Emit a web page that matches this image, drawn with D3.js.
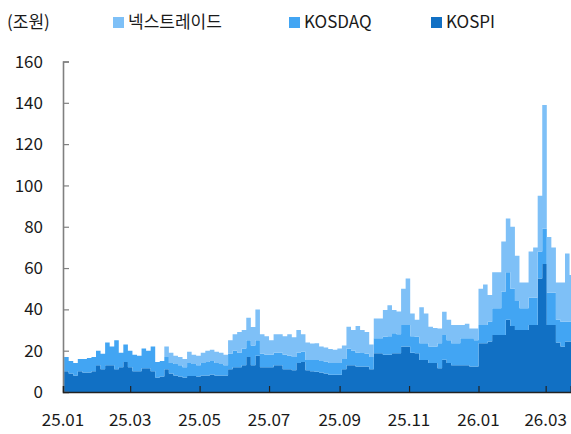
<!DOCTYPE html>
<html>
<head>
<meta charset="utf-8">
<script src="https://cdn.jsdelivr.net/npm/d3@7"></script>
<style>
    body { margin: 0; background: #fff; }
    svg text { font-family: "Noto Sans CJK KR", "Noto Sans", sans-serif; fill: #1a1a1a; }
</style>
</head>
<body>
<div class="chartcontainer"></div>
<script>
// 4-day periods starting 2025-01-02 (조원)
const startDate = new Date(2025, 0, 2)
const stepDays = 4

const kospi = [
    10, 9, 8, 10, 9.5, 9.5, 10, 13, 11, 13, 13, 11, 12, 14.5, 12, 10, 10, 11.5, 11.5, 10,
    7, 7.5, 11, 9, 8, 7.5, 7, 7.7, 7.7, 7.5, 8, 8, 8.5, 8, 8, 8, 11, 12, 12, 13,
    17, 13, 17.5, 12, 12, 12, 13, 13, 11, 11, 10.5, 14, 14.5, 10.5, 10, 9.8, 9.5, 9, 8.4, 8.4,
    8.4, 11, 13, 13, 12.4, 12.4, 12.4, 11, 18.7, 18.7, 18, 18, 18.7, 18.7, 22, 22, 19, 18.7, 15.5, 15.5,
    14, 14, 11.5, 15.6, 14, 13, 13, 13, 13, 12.3, 12.3, 23.6, 23.6, 24.4, 27.6, 27.6, 27.6, 35, 32, 30,
    30, 30, 32.4, 32.4, 55, 62, 32.4, 32.4, 24, 22, 24.4, 24.4
]
const kosdaq = [
    7, 6, 6, 6, 6.5, 7, 7, 7, 7.5, 11, 9, 14, 7, 8.5, 8, 8, 7.5, 9.5, 8.5, 12,
    7.5, 7.5, 6, 5, 5.5, 5.5, 5, 6.3, 5.8, 5.5, 6, 6.5, 6.5, 6, 5.5, 5, 7.5, 8, 7, 8,
    8, 9.5, 7.5, 6.5, 6, 6, 6, 6, 7, 6.5, 6.5, 5, 5, 5, 5.5, 5.7, 5.5, 5.8, 5.6, 5.6,
    5.6, 5, 8, 7, 6.6, 6.5, 6.1, 6, 7.3, 7.3, 8.8, 9, 9.8, 9.3, 10.4, 10.4, 8, 8.1, 8.1, 8.1,
    8, 8, 12.1, 12, 11, 10.6, 10.6, 13, 13, 13.7, 12.7, 8.8, 8.8, 9.6, 12.9, 12.9, 21, 23, 18, 14,
    10.5, 10.5, 13.2, 13.2, 13, 17, 15.6, 15.6, 11, 12, 9.6, 9.6
]
const nextrade = [
    0, 0, 0, 0, 0, 0, 0, 0, 0, 0, 0, 0, 0, 0, 0, 0, 0, 0, 0, 0,
    0, 0, 5, 5, 4, 4, 4, 5.5, 4.5, 4.5, 5, 5.5, 5.5, 5.5, 5.5, 5, 6.5, 8, 10, 9,
    11, 9, 15, 9.5, 9, 7, 9, 9, 9, 10.5, 9.5, 11, 8.5, 8.5, 8, 8.1, 7, 6.8, 6.8, 6.5,
    7, 6.5, 10.6, 10, 13, 11.1, 10.5, 6, 9.6, 9.6, 12.9, 15, 11.2, 11, 17.6, 22.6, 11, 8.2, 17.4, 14.4,
    9.6, 9, 7.2, 11.3, 10, 8.8, 8.8, 6.4, 7, 4.8, 5.8, 17.6, 19.6, 13, 17.5, 17.5, 24.2, 26, 30, 22,
    12.5, 12.5, 22.4, 24.4, 27, 60, 27, 22, 18, 19, 33, 22.6
]

const seriesKeys = ['kospi', 'kosdaq', 'nextrade']
const seriesNames = ['KOSPI', 'KOSDAQ', '넥스트레이드']
const seriesColors = ['#1170c4', '#42a5f3', '#7ec0f7']
const yTicks = [0, 20, 40, 60, 80, 100, 120, 140, 160]
const xTickMonths = ['2025-01', '2025-03', '2025-05', '2025-07', '2025-09', '2025-11', '2026-01', '2026-03']

const w = 571
const h = 434
const padLeft = 63
const padRight = 571
const padTop = 61.5
const axisY = 392

let rows = kospi.map((v, i) => ({
    date: d3.timeDay.offset(startDate, i * stepDays),
    kospi: v,
    kosdaq: kosdaq[i],
    nextrade: nextrade[i]
}))
// carry the last period to its end so the step reaches the edge
let last = rows[rows.length - 1]
rows.push(Object.assign({}, last, { date: d3.timeDay.offset(last.date, stepDays) }))

const xScale = d3.scaleTime()
    .domain([new Date(2025, 0, 1), new Date(2026, 2, 23)])
    .range([padLeft, 570.7])

const yScale = d3.scaleLinear()
    .domain([0, 160])
    .range([axisY, padTop])

const svg = d3.select('.chartcontainer')
    .append('svg')
    .attr('width', w)
    .attr('height', h)

svg.append('clipPath')
    .attr('id', 'plotclip')
    .append('rect')
    .attr('x', padLeft)
    .attr('y', 0)
    .attr('width', padRight - padLeft)
    .attr('height', axisY)

const stacked = d3.stack().keys(seriesKeys)(rows)

const area = d3.area()
    .curve(d3.curveStepAfter)
    .x(d => xScale(d.data.date))
    .y0(d => yScale(d[0]))
    .y1(d => yScale(d[1]))

svg.append('g')
    .attr('clip-path', 'url(#plotclip)')
    .selectAll('path')
    .data(stacked)
    .enter()
    .append('path')
    .attr('d', area)
    .attr('fill', (d, i) => seriesColors[i])

// y axis, ticks pointing inward
const yAxis = d3.axisRight(yScale)
    .tickValues(yTicks)
    .tickSize(6)
    .tickFormat('')
const gy = svg.append('g')
    .attr('transform', 'translate(' + padLeft + ',0)')
    .call(yAxis)
gy.select('.domain').attr('stroke', '#808080').attr('stroke-width', 1.6)
gy.selectAll('.tick line').attr('stroke', '#808080').attr('stroke-width', 1.2)

svg.append('g')
    .selectAll('text')
    .data(yTicks)
    .enter()
    .append('text')
    .attr('x', 43)
    .attr('y', d => yScale(d))
    .attr('dy', '0.36em')
    .attr('text-anchor', 'end')
    .style('font-size', '17px')
    .text(d => d)

// x axis, ticks pointing up
const parseMonth = d3.timeParse('%Y-%m')
const xTickDates = xTickMonths.map(parseMonth)
const xAxis = d3.axisTop(xScale)
    .tickValues(xTickDates)
    .tickSize(6)
    .tickFormat('')
const gx = svg.append('g')
    .attr('transform', 'translate(0,' + axisY + ')')
    .call(xAxis)
gx.select('.domain').attr('stroke', '#222').attr('stroke-width', 1.4)
gx.selectAll('.tick line').attr('stroke', '#222').attr('stroke-width', 1.2)

svg.append('g')
    .selectAll('text')
    .data(xTickDates)
    .enter()
    .append('text')
    .attr('x', d => xScale(d))
    .attr('y', 426)
    .attr('text-anchor', 'middle')
    .style('font-size', '17px')
    .text(d => d3.timeFormat('%y.%m')(d))

// unit and legend
svg.append('text')
    .text('(조원)')
    .attr('x', 7)
    .attr('y', 28)
    .style('font-size', '17px')

const legendX = [113, 289, 431]
const legendOrder = [2, 1, 0]
const legend = svg.append('g')
    .selectAll('g')
    .data(legendOrder)
    .enter()
    .append('g')
    .attr('transform', (d, i) => 'translate(' + legendX[i] + ',0)')
legend.append('rect')
    .attr('x', 0)
    .attr('y', 17)
    .attr('width', 11)
    .attr('height', 11)
    .attr('fill', d => seriesColors[d])
legend.append('text')
    .attr('x', 15)
    .attr('y', 28)
    .style('font-size', '17px')
    .text(d => seriesNames[d])
</script>
</body>
</html>
